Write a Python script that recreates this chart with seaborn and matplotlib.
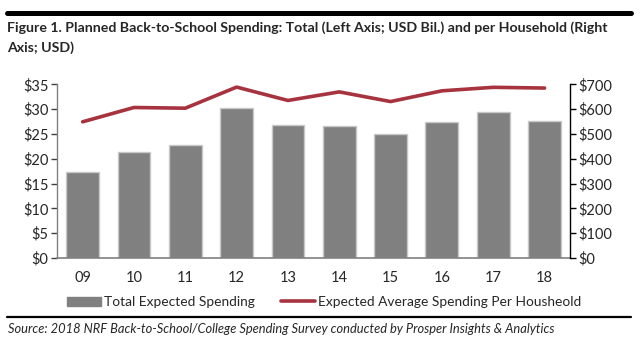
import matplotlib
matplotlib.use("Agg")
import matplotlib.pyplot as plt
import seaborn as sns
import numpy as np
import pandas as pd
from matplotlib.lines import Line2D
from matplotlib.patches import Patch

years = ["09", "10", "11", "12", "13", "14", "15", "16", "17", "18"]
total_spending = [17.4, 21.35, 22.8, 30.3, 26.7, 26.5, 24.9, 27.3, 29.5, 27.5]
per_household = [548.72, 606.40, 603.63, 688.62, 634.78, 669.28, 630.36, 673.57, 687.72, 684.79]
left_ticks = [0, 5, 10, 15, 20, 25, 30, 35]
right_ticks = [0, 100, 200, 300, 400, 500, 600, 700]

sns.set_style("white")
plt.rcParams["font.family"] = ["Lato", "DejaVu Sans"]

BAR = "#808080"
LINE = "#A7333F"

fig = plt.figure(figsize=(6.4, 3.42), dpi=100)
ax = fig.add_axes([0.089, 0.2456, 0.802, 0.508])

df = pd.DataFrame({"year": years, "total": total_spending, "hh": per_household})
sns.barplot(data=df, x="year", y="total", ax=ax, color=BAR, saturation=1,
            width=0.64, edgecolor="#C8C8C8", linewidth=1)

ax.set_ylim(0, 35)
ax.set_yticks(left_ticks)
ax.set_yticklabels([f"${v}" for v in left_ticks])
ax.set_xlim(-0.5, len(years) - 0.5)
ax.set_xticks(np.arange(-0.5, len(years), 1.0))
ax.set_xticklabels([])
ax.set_xticks(np.arange(len(years)), minor=True)
ax.set_xticklabels(years, minor=True)
ax.tick_params(axis="x", which="major", length=4, width=1, color="#404040", direction="out")
ax.tick_params(axis="x", which="minor", length=0, pad=9, labelsize=10.5)
ax.tick_params(axis="y", length=4, width=1, color="#404040", direction="out", labelsize=10.5, pad=2)
ax.set_xlabel("")
ax.set_ylabel("")
for s in ["top", "right"]:
    ax.spines[s].set_visible(False)
ax.spines["left"].set_color("#808080")
ax.spines["bottom"].set_color("#808080")
ax.spines["left"].set_linewidth(1)
ax.spines["bottom"].set_linewidth(1.2)

ax2 = ax.twinx()
sns.lineplot(x=np.arange(len(years)), y=per_household, ax=ax2, color=LINE, linewidth=2.6)
ax2.set_ylim(0, 700)
ax2.set_yticks(right_ticks)
ax2.set_yticklabels([f"${v}" for v in right_ticks])
ax2.tick_params(axis="y", length=4, width=1, color="#000000", direction="out", labelsize=10.5, pad=2)
for s in ["top", "left", "bottom"]:
    ax2.spines[s].set_visible(False)
ax2.spines["right"].set_color("#000000")
ax2.spines["right"].set_linewidth(1)
ax2.set_ylabel("")

handles = [Patch(facecolor=BAR, edgecolor=BAR),
           Line2D([0], [0], color=LINE, linewidth=2.6)]
fig.legend(handles, ["Total Expected Spending", "Expected Average Spending Per Housheold"],
           loc="center", bbox_to_anchor=(0.507, 0.117), ncol=2, frameon=False,
           fontsize=9.9, handlelength=2.47, handleheight=0.6, handletextpad=0.22,
           columnspacing=1.9, borderpad=0.2)

fig.add_artist(Line2D([0.011, 0.986], [0.962, 0.962], color="black", linewidth=3.6))
fig.add_artist(Line2D([0.011, 0.986], [0.073, 0.073], color="black", linewidth=1.6))

fig.text(0.011, 0.919, "Figure 1. Planned Back-to-School Spending: Total (Left Axis; USD Bil.) and per Household (Right",
         fontsize=10.2, fontweight="bold", ha="left", va="center")
fig.text(0.011, 0.862, "Axis; USD)", fontsize=10.2, fontweight="bold", ha="left", va="center")
fig.text(0.012, 0.038, "Source: 2018 NRF Back-to-School/College Spending Survey conducted by Prosper Insights & Analytics",
         fontsize=9.3, fontstyle="italic", ha="left", va="center")

fig.savefig("out.png", dpi=100)
